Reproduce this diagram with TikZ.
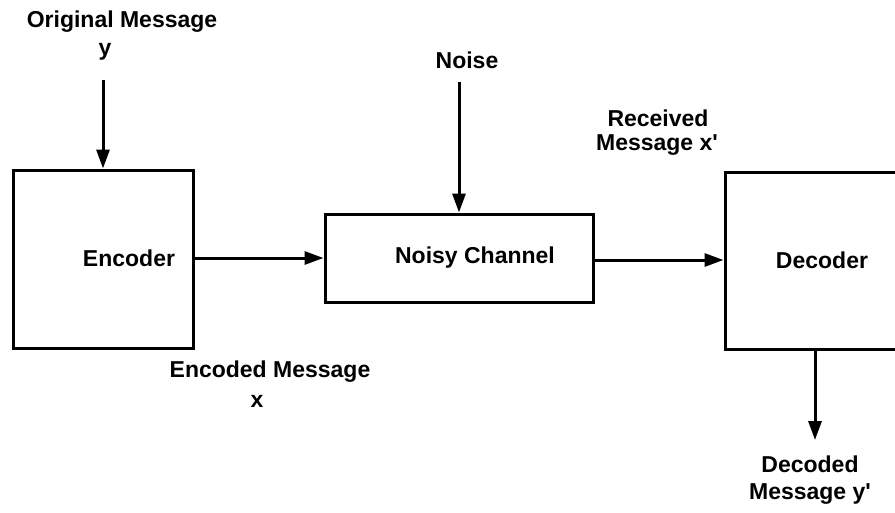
\documentclass[tikz,border=0pt]{standalone}
\usepackage{fontspec}
\setmainfont{Liberation Sans}
\usetikzlibrary{arrows.meta}
\begin{document}
\begin{tikzpicture}[x=1pt,y=-1pt,
  box/.style={draw=black,line width=3pt,minimum width=#1,inner sep=0pt},
  txt/.style={font=\fontsize{23}{27}\selectfont\bfseries,inner sep=0pt,anchor=center},
  arr/.style={line width=3pt,-{Triangle[length=19pt,width=13pt]}}]
\clip (0,0) rectangle (895,512);
\fill[white] (0,0) rectangle (895,512);
% boxes
\node[box=180pt,minimum height=178pt] (enc) at (103,259) {};
\node[box=268pt,minimum height=88pt] (noisy) at (459,258) {};
\node[box=180pt,minimum height=177pt] (dec) at (815,260.5) {};
% box labels
\node[txt] (enclbl) at (129,258) {Encoder};
\node[txt] (noisylbl) at (475,258) {Noisy Channel};
\node[txt] (declbl) at (822,260) {Decoder};
% outer labels
\node[txt] (orig) at (122,22) {Original Message};
\node[txt] (origy) at (105,52) {y};
\node[txt] (noise) at (467,60) {Noise};
\node[txt] (rec1) at (658,118) {Received};
\node[txt] (rec2) at (657,145) {Message x\textquotesingle};
\node[txt] (enc1) at (270,372) {Encoded Message};
\node[txt] (enc2) at (257,401) {x};
\node[txt] (dcd1) at (810,464) {Decoded};
\node[txt] (dcd2) at (810,494) {Message y\textquotesingle};
% connector ends
\coordinate (ys) at (103,80);
\coordinate (ns) at (459,82);
\coordinate (de) at (815,440);
% arrows
\draw[arr] (ys) -- (enc.north);
\draw[arr] (ns) -- (noisy.north);
\draw[arr] (enc.east |- noisy.west) -- (noisy.west);
\draw[arr] (noisy.east |- 0,260) -- (dec.west |- 0,260);
\draw[arr] (dec.south) -- (de);
\end{tikzpicture}
\end{document}
